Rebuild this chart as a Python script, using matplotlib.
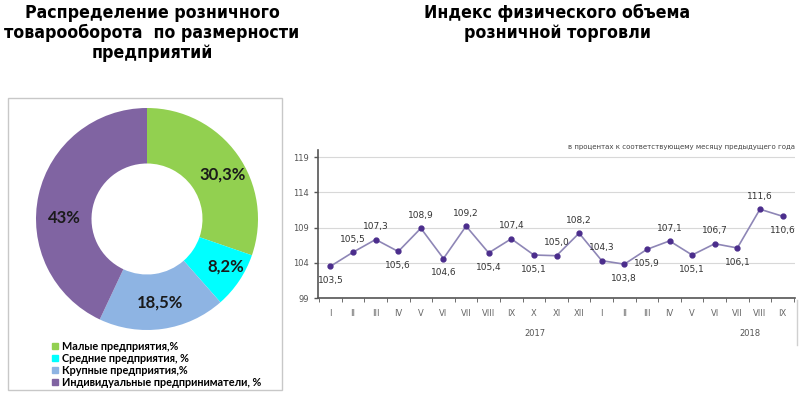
import matplotlib.pyplot as plt
from matplotlib.patches import Rectangle
from matplotlib.lines import Line2D

# donut data
shares = [30.3, 8.2, 18.5, 43]
share_labels = ['30,3%', '8,2%', '18,5%', '43%']
legend_names = ['Малые предприятия,%', 'Средние предприятия, %',
                'Крупные предприятия,%', 'Индивидуальные предприниматели, %']
colors = ['#92D050', '#00FFFF', '#8EB4E3', '#8064A2']

# index data
months = ['I', 'II', 'III', 'IV', 'V', 'VI', 'VII', 'VIII', 'IX', 'X', 'XI', 'XII',
          'I', 'II', 'III', 'IV', 'V', 'VI', 'VII', 'VIII', 'IX']
index_vals = [103.5, 105.5, 107.3, 105.6, 108.9, 104.6, 109.2, 105.4, 107.4, 105.1, 105.0, 108.2,
              104.3, 103.8, 105.9, 107.1, 105.1, 106.7, 106.1, 111.6, 110.6]
label_above = [False, True, True, False, True, False, True, False, True, False, True, True,
               True, False, False, True, False, True, False, True, False]

W, H = 800, 396
fig = plt.figure(figsize=(8, 3.96), dpi=100)

def px(x0, y0, x1, y1):
    return [x0 / W, 1 - y1 / H, (x1 - x0) / W, (y1 - y0) / H]

# titles
tfont = dict(family='DejaVu Sans', stretch='condensed', fontweight='bold', fontsize=12.7,
             ha='center', va='center')
for i, t in enumerate(['Распределение розничного', 'товарооборота  по размерности', 'предприятий']):
    fig.text(152 / W, 1 - (13 + i * 20) / H, t, **tfont)
for i, t in enumerate(['Индекс физического объема', 'розничной торговли']):
    fig.text(557 / W, 1 - (13 + i * 20) / H, t, **tfont)

# frames
frame = fig.add_axes([0, 0, 1, 1])
frame.set_xlim(0, W)
frame.set_ylim(H, 0)
frame.axis('off')
frame.add_patch(Rectangle((8, 98), 274, 292, fill=False, edgecolor='#c8c8c8', lw=1))
frame.plot([797, 797], [300, 345], color='#d0d0d0', lw=1)

# donut
ax = fig.add_axes(px(36, 108, 258, 330))
ax.pie(shares, colors=colors, startangle=90, counterclock=False, radius=1,
       wedgeprops=dict(width=0.5, edgecolor='none'))
ax.set_xlim(-1, 1)
ax.set_ylim(-1, 1)
ax.set_aspect('equal')
label_pos = [(0.68, 0.40), (0.71, -0.43), (0.12, -0.75), (-0.74, 0.01)]
for (x, y), s in zip(label_pos, share_labels):
    ax.text(x, y, s, ha='center', va='center', fontsize=12, fontweight='bold',
            family='Lato', color='#1a1a1a')

handles = [Line2D([], [], marker='s', ls='', color=c, markersize=5) for c in colors]
fig.legend(handles, legend_names, loc='upper left', bbox_to_anchor=(41 / W, 1 - 331 / H),
           frameon=False, handletextpad=0.2, labelspacing=0.1, handlelength=0.8,
           prop=dict(family='Lato', weight='bold', size=7.8))

# line chart
ax2 = fig.add_axes(px(318, 150, 795, 298))
x = list(range(len(index_vals)))
ax2.plot(x, index_vals, color='#8e86b6', lw=1.2, marker='o', markersize=3.5,
         markerfacecolor='#4b2d8c', markeredgecolor='#4b2d8c')
for xi, v, up in zip(x, index_vals, label_above):
    ax2.annotate(f'{v:.1f}'.replace('.', ','), (xi, v), xytext=(0, 6 if up else -7),
                 textcoords='offset points', ha='center', va='bottom' if up else 'top',
                 fontsize=6.5, color='#333333')
ax2.set_xlim(-0.55, len(x) - 0.45)
ax2.set_ylim(99, 120)
ax2.set_yticks([99, 104, 109, 114, 119])
ax2.set_xticks(x)
ax2.set_xticklabels(months)
ax2.set_xticks([i + 0.5 for i in range(-1, len(x))], minor=True)
ax2.tick_params(axis='x', which='major', length=0, labelsize=6, colors='#666666', pad=8)
ax2.tick_params(axis='x', which='minor', length=3, color='#555555')
ax2.tick_params(axis='y', length=3, labelsize=6, colors='#555555', width=1)
ax2.grid(axis='y', color='#d8d8d8', lw=0.8)
for s in ['top', 'right']:
    ax2.spines[s].set_visible(False)
for s in ['left', 'bottom']:
    ax2.spines[s].set_color('#555555')
    ax2.spines[s].set_linewidth(1.2)
ax2.text(1.0, 1.02, 'в процентах к соответствующему месяцу предыдущего года',
         transform=ax2.transAxes, ha='right', va='center', fontsize=5, color='#444444')
fig.text(535 / W, 1 - 334 / H, '2017', fontsize=6, color='#555555', ha='center', va='center')
fig.text(750 / W, 1 - 334 / H, '2018', fontsize=6, color='#555555', ha='center', va='center')

fig.savefig('out.png', dpi=100)
